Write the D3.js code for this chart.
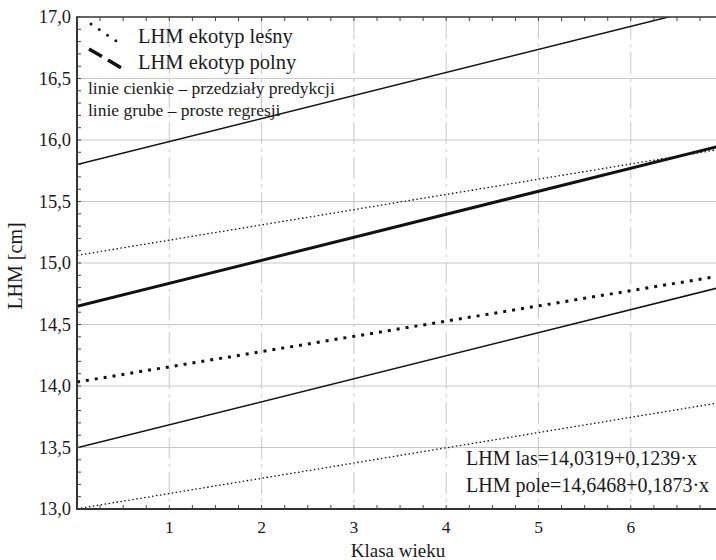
<!DOCTYPE html>
<html><head><meta charset="utf-8">
<script src="https://cdn.jsdelivr.net/npm/d3@7"></script>
<style>body{margin:0;background:#fff}svg{display:block}text{font-family:"Liberation Serif","DejaVu Serif",serif;fill:#1a1a1a}</style>
</head><body><svg id="c" width="716" height="560"></svg>
<script>
// Data (line end points at x = 0 and x = 7)
const xEnds = [0, 7];
const fieldFit   = [14.647, 15.958];
const fieldUpper = [15.800, 17.111];
const fieldLower = [13.497, 14.808];
const forestFit   = [14.032, 14.899];
const forestUpper = [15.062, 15.929];
const forestLower = [13.002, 13.869];
const xTicks = [1, 2, 3, 4, 5, 6];
const yTicks = [13.0, 13.5, 14.0, 14.5, 15.0, 15.5, 16.0, 16.5, 17.0];
const legendLabels = ["LHM ekotyp leśny", "LHM ekotyp polny"];
const noteLabels = ["linie cienkie – przedziały predykcji", "linie grube – proste regresji"];
const equations = ["LHM las=14,0319+0,1239·x", "LHM pole=14,6468+0,1873·x"];

const svg = d3.select("#c");
const L = 77, T = 17, B = 509, unit = 92.3;
const x = d3.scaleLinear().domain([0, 7]).range([L, L + 7 * unit]);
const y = d3.scaleLinear().domain([13, 17]).range([B, T]);
const fmt = v => d3.format(".1f")(v).replace(".", ",");

svg.append("defs").append("clipPath").attr("id", "pc")
  .append("rect").attr("x", L).attr("y", T).attr("width", 716 - L).attr("height", B - T);

// grid
const g = svg.append("g").attr("clip-path", "url(#pc)");
g.selectAll(".hg").data(yTicks.slice(1, -1)).join("line")
  .attr("x1", L).attr("x2", 716).attr("y1", d => y(d)).attr("y2", d => y(d))
  .attr("stroke", "#c8c8c8").attr("stroke-width", 1);
g.selectAll(".vg").data(xTicks).join("line")
  .attr("x1", d => x(d)).attr("x2", d => x(d)).attr("y1", T).attr("y2", B)
  .attr("stroke", "#c8c8c8").attr("stroke-width", 1).attr("stroke-dasharray", "22,5,3,5");

// series
const series = [
  {v: fieldUpper, w: 1.5, dash: null},
  {v: fieldLower, w: 1.5, dash: null},
  {v: fieldFit, w: 3, dash: null},
  {v: forestUpper, w: 1.3, dash: "1.5,2.5"},
  {v: forestLower, w: 1.3, dash: "1.5,2.5"},
  {v: forestFit, w: 3, dash: "3,6"}
];
const line = d3.line().x((d, i) => x(xEnds[i])).y(d => y(d));
series.forEach(s => {
  g.append("path").attr("d", line(s.v)).attr("fill", "none")
    .attr("stroke", "#111").attr("stroke-width", s.w)
    .attr("stroke-dasharray", s.dash);
});

// axes
const minorY = d3.range(13, 17.001, 0.1);
const minorX = d3.range(0, 7.001, 0.25);
const ax = svg.append("g");
ax.append("line").attr("x1", L).attr("x2", L).attr("y1", T).attr("y2", B).attr("stroke", "#333").attr("stroke-width", 2);
ax.append("line").attr("x1", L - 1).attr("x2", 716).attr("y1", B).attr("y2", B).attr("stroke", "#333").attr("stroke-width", 2);
ax.append("line").attr("x1", L - 1).attr("x2", 716).attr("y1", T).attr("y2", T).attr("stroke", "#333").attr("stroke-width", 1.5);
ax.selectAll(".ym").data(minorY).join("line")
  .attr("x1", L).attr("x2", L + 4).attr("y1", d => y(d)).attr("y2", d => y(d)).attr("stroke", "#444");
ax.selectAll(".xm").data(minorX).join("line")
  .attr("y1", B).attr("y2", B - 4).attr("x1", d => x(d)).attr("x2", d => x(d)).attr("stroke", "#444");
ax.selectAll(".xt").data(minorX).join("line")
  .attr("y1", T).attr("y2", T + 4).attr("x1", d => x(d)).attr("x2", d => x(d)).attr("stroke", "#444");

ax.selectAll(".yl").data(yTicks).join("text")
  .attr("x", L - 6).attr("y", d => y(d) + 6).attr("text-anchor", "end")
  .attr("font-size", 18.5).text(fmt);
ax.selectAll(".xl").data(xTicks).join("text")
  .attr("x", d => x(d)).attr("y", 533).attr("text-anchor", "middle")
  .attr("font-size", 17.5).text(d => d);

svg.append("text").attr("transform", "translate(22,266) rotate(-90)")
  .attr("text-anchor", "middle").attr("font-size", 20).text("LHM [cm]");
svg.append("text").attr("x", 398).attr("y", 557)
  .attr("text-anchor", "middle").attr("font-size", 19).text("Klasa wieku");

// legend
const lg = svg.append("g");
lg.append("line").attr("x1", 91).attr("y1", 24).attr("x2", 119).attr("y2", 43)
  .attr("stroke", "#111").attr("stroke-width", 3).attr("stroke-linecap", "round")
  .attr("stroke-dasharray", "0,10");
lg.append("line").attr("x1", 89).attr("y1", 49).attr("x2", 125).attr("y2", 70)
  .attr("stroke", "#111").attr("stroke-width", 3.5).attr("stroke-dasharray", "15,7");
lg.selectAll(".lt").data(legendLabels).join("text")
  .attr("x", 138).attr("y", (d, i) => 43 + i * 26).attr("font-size", 20.5).text(d => d);
lg.selectAll(".nt").data(noteLabels).join("text")
  .attr("x", 88).attr("y", (d, i) => 94 + i * 22).attr("font-size", 17.5).text(d => d);

svg.selectAll(".eq").data(equations).join("text")
  .attr("x", 466).attr("y", (d, i) => 465 + i * 27).attr("font-size", 20).text(d => d);
</script></body></html>
